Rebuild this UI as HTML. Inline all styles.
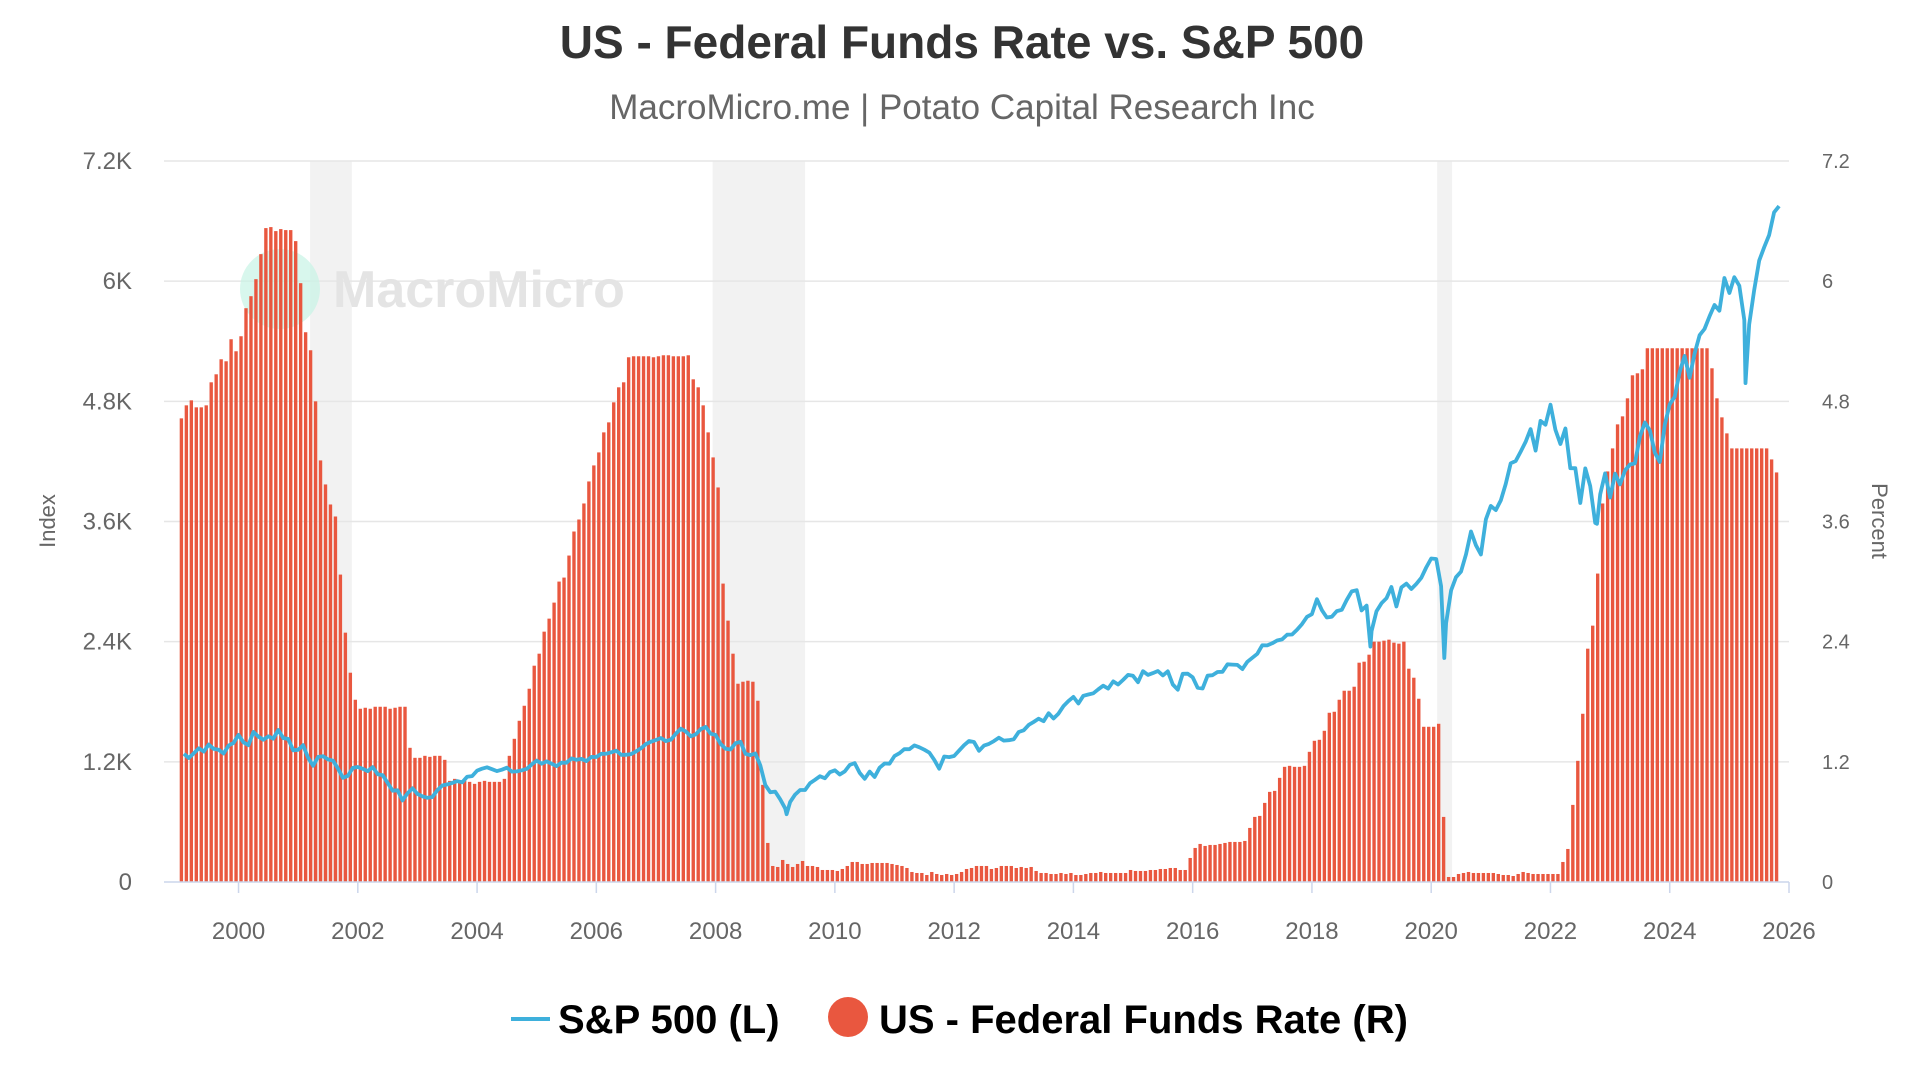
<!DOCTYPE html>
<html><head><meta charset="utf-8">
<style>
html,body{margin:0;padding:0;background:#fff;}
svg{display:block;font-family:"Liberation Sans",sans-serif;}
</style></head>
<body>
<svg id="chart" width="1920" height="1080" viewBox="0 0 1920 1080">
  <text x="962" y="58" text-anchor="middle" font-size="46" font-weight="bold" fill="#333">US - Federal Funds Rate vs. S&amp;P 500</text>
  <text x="962" y="119" text-anchor="middle" font-size="35" fill="#666">MacroMicro.me | Potato Capital Research Inc</text>
  <g id="recessions"></g>
  <g id="grid"></g>
  <g>
    <circle cx="280" cy="289" r="40" fill="#c8f3e6" opacity="0.7"/>
    <text x="333" y="307" font-size="52" font-weight="bold" fill="#e4e4e4">MacroMicro</text>
  </g>
  <g id="bars"></g>
  <path id="spline" fill="none" stroke="#3eb0dc" stroke-width="3.8" stroke-linejoin="round"/>
  <g id="axes"></g>
  <text transform="translate(55,521) rotate(-90)" text-anchor="middle" font-size="22" fill="#666">Index</text>
  <text transform="translate(1872,521) rotate(90)" text-anchor="middle" font-size="22" fill="#666">Percent</text>
  <g>
    <g>
      <line x1="511" y1="1019" x2="550" y2="1019" stroke="#3eb0dc" stroke-width="4"/>
      <text x="558" y="1033" font-size="40" font-weight="bold" fill="#000">S&amp;P 500 (L)</text>
    </g>
    <g>
      <circle cx="848" cy="1017" r="20" fill="#e9573f"/>
      <text x="879" y="1033" font-size="40" font-weight="bold" fill="#000">US - Federal Funds Rate (R)</text>
    </g>
  </g>
</svg>
<script>
const xTicks=[2000,2002,2004,2006,2008,2010,2012,2014,2016,2018,2020,2022,2024,2026];
const leftTicks=[0,1200,2400,3600,4800,6000,7200];
const leftTickLabels=["0","1.2K","2.4K","3.6K","4.8K","6K","7.2K"];
const rightTicks=[0,1.2,2.4,3.6,4.8,6,7.2];
const rightTickLabels=["0","1.2","2.4","3.6","4.8","6","7.2"];
const recessionStarts=[2001.2,2007.95,2020.1];
const recessionEnds=[2001.9,2009.5,2020.35];
const fedStartYear=1999;
const fedRates=[
4.63,4.76,4.81,4.74,4.74,4.76,4.99,5.07,5.22,5.20,5.42,5.30,
5.45,5.73,5.85,6.02,6.27,6.53,6.54,6.50,6.52,6.51,6.51,6.40,
5.98,5.49,5.31,4.80,4.21,3.97,3.77,3.65,3.07,2.49,2.09,1.82,
1.73,1.74,1.73,1.75,1.75,1.75,1.73,1.74,1.75,1.75,1.34,1.24,
1.24,1.26,1.25,1.26,1.26,1.22,1.01,1.03,1.01,1.01,1.00,0.98,
1.00,1.01,1.00,1.00,1.00,1.03,1.26,1.43,1.61,1.76,1.93,2.16,
2.28,2.50,2.63,2.79,3.00,3.04,3.26,3.50,3.62,3.78,4.00,4.16,
4.29,4.49,4.59,4.79,4.94,4.99,5.24,5.25,5.25,5.25,5.25,5.24,
5.25,5.26,5.26,5.25,5.25,5.25,5.26,5.02,4.94,4.76,4.49,4.24,
3.94,2.98,2.61,2.28,1.98,2.00,2.01,2.00,1.81,0.97,0.39,0.16,
0.15,0.22,0.18,0.15,0.18,0.21,0.16,0.16,0.15,0.12,0.12,0.12,
0.11,0.13,0.16,0.20,0.20,0.18,0.18,0.19,0.19,0.19,0.19,0.18,
0.17,0.16,0.14,0.10,0.09,0.09,0.07,0.10,0.08,0.07,0.08,0.07,
0.08,0.10,0.13,0.14,0.16,0.16,0.16,0.13,0.14,0.16,0.16,0.16,
0.14,0.15,0.14,0.15,0.11,0.09,0.09,0.08,0.08,0.09,0.08,0.09,
0.07,0.07,0.08,0.09,0.09,0.10,0.09,0.09,0.09,0.09,0.09,0.12,
0.11,0.11,0.11,0.12,0.12,0.13,0.13,0.14,0.14,0.12,0.12,0.24,
0.34,0.38,0.36,0.37,0.37,0.38,0.39,0.40,0.40,0.40,0.41,0.54,
0.65,0.66,0.79,0.90,0.91,1.04,1.15,1.16,1.15,1.15,1.16,1.30,
1.41,1.42,1.51,1.69,1.70,1.82,1.91,1.91,1.95,2.19,2.20,2.27,
2.40,2.40,2.41,2.42,2.39,2.38,2.40,2.13,2.04,1.83,1.55,1.55,
1.55,1.58,0.65,0.05,0.05,0.08,0.09,0.10,0.09,0.09,0.09,0.09,
0.09,0.08,0.07,0.07,0.06,0.08,0.10,0.09,0.08,0.08,0.08,0.08,
0.08,0.08,0.20,0.33,0.77,1.21,1.68,2.33,2.56,3.08,3.78,4.10,
4.33,4.57,4.65,4.83,5.06,5.08,5.12,5.33,5.33,5.33,5.33,5.33,
5.33,5.33,5.33,5.33,5.33,5.33,5.33,5.33,5.13,4.83,4.64,4.48,
4.33,4.33,4.33,4.33,4.33,4.33,4.33,4.33,4.22,4.09];
const spStartYear=1999;
const spMonthly=[
1280,1238,1286,1335,1302,1373,1329,1320,1283,1363,1389,1469,
1394,1366,1499,1452,1421,1455,1431,1518,1437,1429,1315,1320,
1366,1240,1160,1249,1256,1224,1211,1134,1041,1060,1139,1148,
1130,1107,1147,1077,1067,990,912,916,815,886,936,880,
856,841,848,917,964,975,990,1008,996,1051,1058,1112,
1131,1145,1126,1107,1121,1141,1102,1104,1115,1130,1174,1212,
1181,1204,1181,1157,1192,1191,1234,1220,1229,1207,1249,1248,
1280,1281,1295,1311,1270,1270,1277,1304,1336,1378,1401,1418,
1438,1407,1421,1482,1531,1503,1455,1474,1527,1549,1481,1468,
1379,1331,1323,1386,1400,1280,1267,1283,1165,969,896,903,
826,735,798,873,919,919,987,1021,1057,1036,1096,1115,
1074,1104,1169,1187,1089,1031,1102,1049,1141,1183,1181,1258,
1286,1327,1326,1364,1345,1321,1292,1219,1131,1253,1247,1258,
1312,1366,1408,1398,1310,1362,1379,1407,1441,1412,1416,1426,
1498,1515,1569,1598,1631,1606,1686,1633,1682,1757,1806,1848,
1783,1859,1872,1884,1924,1960,1931,2003,1972,2018,2068,2059,
1995,2105,2068,2086,2107,2063,2104,1972,1920,2079,2080,2044,
1940,1932,2060,2065,2097,2099,2174,2171,2168,2126,2199,2239,
2279,2364,2363,2384,2412,2423,2470,2472,2519,2575,2648,2674,
2824,2714,2641,2648,2705,2718,2816,2902,2914,2712,2760,2507,
2704,2784,2834,2946,2752,2942,2980,2926,2977,3038,3141,3231,
3226,2954,2585,2912,3044,3100,3271,3500,3363,3270,3622,3756,
3714,3811,3973,4181,4204,4298,4395,4523,4308,4605,4567,4766,
4516,4374,4530,4132,4132,3785,4130,3955,3586,3872,4080,3840,
4077,3970,4109,4169,4180,4450,4589,4508,4288,4194,4568,4770,
4846,5096,5254,5036,5278,5460,5522,5648,5762,5705,6032,5882,
6040,5955,5612,5569,5912,6205,6339,6460,6688,6750];
const spExtraDates=[2009.19,2018.98,2020.22,2022.78,2025.27];
const spExtraValues=[677,2351,2237,3577,4982];

const NS="http://www.w3.org/2000/svg";
const L=164,R=1789,T=161,B=882;
const X0=1998.75,X1=2026;
function xs(t){return L+(t-X0)/(X1-X0)*(R-L);}
function yl(v){return B-v/7200*(B-T);}
function yr(v){return B-v/7.2*(B-T);}
function mk(tag,attrs,parent){const e=document.createElementNS(NS,tag);for(const k in attrs)e.setAttribute(k,attrs[k]);parent.appendChild(e);return e;}

const rec=document.getElementById('recessions');
recessionStarts.forEach((s,i)=>{
  const r=mk('rect',{x:xs(s),y:T,width:xs(recessionEnds[i])-xs(s),height:B-T,fill:'#f2f2f2'},rec);
  
  
});
const grid=document.getElementById('grid');
const axes=document.getElementById('axes');
leftTicks.forEach((v,i)=>{
  if(v>0){const g=mk('line',{x1:L,x2:R,y1:yl(v),y2:yl(v),stroke:'#e6e6e6','stroke-width':1.5},grid);
  
  }
  const t=mk('text',{x:132,y:yl(v)+8,'text-anchor':'end','font-size':24,fill:'#666'},axes);
  t.textContent=leftTickLabels[i];
  
  
});
rightTicks.forEach((v,i)=>{
  const t=mk('text',{x:1822,y:yr(v)+7,'text-anchor':'start','font-size':20,fill:'#666'},axes);
  t.textContent=rightTickLabels[i];
  
  
});
const bars=document.getElementById('bars');
fedRates.forEach((v,i)=>{
  const t=fedStartYear+i/12;
  const x0=xs(t),x1=xs(t+1/12);
  const b=mk('rect',{x:x0+0.8,y:yr(v),width:Math.max(1,x1-x0-1.6),height:B-yr(v),fill:'#e9573f'},bars);
  
  
});
const pts=spMonthly.map((v,i)=>[spStartYear+(i+1)/12,v]);
spExtraDates.forEach((d,i)=>pts.push([d,spExtraValues[i]]));
pts.sort((a,b)=>a[0]-b[0]);
document.getElementById('spline').setAttribute('d',pts.map((p,i)=>(i?'L':'M')+xs(p[0]).toFixed(1)+','+yl(p[1]).toFixed(1)).join(''));
const ax=mk('line',{x1:L,x2:R,y1:B,y2:B,stroke:'#ccd6eb','stroke-width':1.5},axes);


xTicks.forEach(y=>{
  const tk=mk('line',{x1:xs(y),x2:xs(y),y1:B,y2:B+11,stroke:'#ccd6eb','stroke-width':1.5},axes);
  
  
  const t=mk('text',{x:xs(y),y:939,'text-anchor':'middle','font-size':24,fill:'#666'},axes);
  t.textContent=String(y);
  
  
});
</script>
</body></html>
